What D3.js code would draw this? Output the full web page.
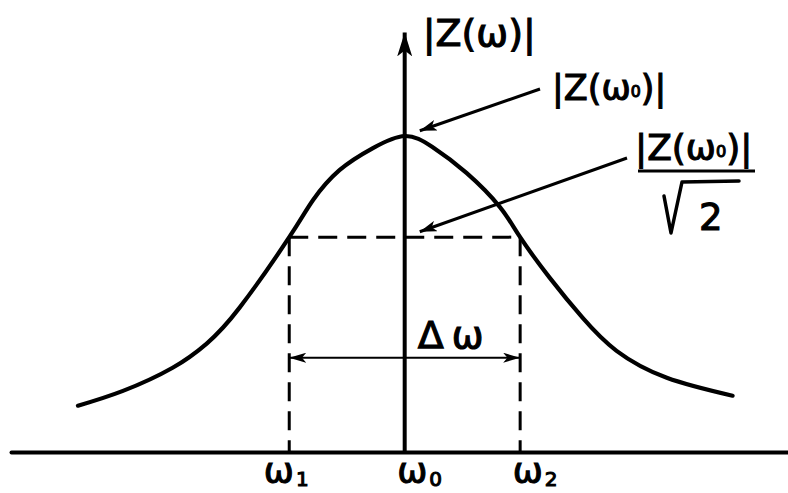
<!DOCTYPE html>
<html>
<head>
<meta charset="utf-8">
<script src="https://cdn.jsdelivr.net/npm/d3@7"></script>
<style>
  html, body { margin: 0; padding: 0; background: #fff; }
  svg { display: block; }
  text { font-family: "DejaVu Sans", sans-serif; fill: #000; stroke: #000; stroke-width: 1.1px; }
</style>
</head>
<body>
<svg id="chart" width="788" height="493"></svg>
<script>
// Resonance curve |Z(ω)|; frequency in units of ω0, magnitude relative to |Z(ω0)|
const omega     = [0.434, 0.512, 0.598, 0.657, 0.714, 0.800, 0.841, 0.887, 0.945, 1.000,
                   1.048, 1.107, 1.165, 1.200, 1.251, 1.308, 1.367, 1.454, 1.568];
const magnitude = [0.219, 0.262, 0.329, 0.399, 0.503, 0.707, 0.814, 0.901, 0.965, 1.000,
                   0.968, 0.893, 0.794, 0.707, 0.590, 0.474, 0.378, 0.300, 0.248];

// Marked frequencies on the ω axis
const tickValues = [0.8, 1.0, 1.2];
const tickBase   = ["ω", "ω", "ω"];
const tickSubs   = ["1", "0", "2"];

const omega0 = 1.0;
const omega1 = 0.8;
const omega2 = 1.2;
const peakValue = 1.0;
const halfPowerValue = peakValue / Math.SQRT2;
const bandArrowLevel = 0.358;   // height of the Δω dimension line
const axisTopValue = 1.30;      // top of the |Z| axis arrow
const baseValue = 0.085;        // level of the ω axis

const svg = d3.select("#chart");

const x = d3.scaleLinear().domain([0.318, 1.664]).range([11, 788]);
const y = d3.scaleLinear().domain([baseValue, 1]).range([452, 136]);

// arrow markers
const defs = svg.append("defs");
function arrowMarker(id, len, half) {
  defs.append("marker")
    .attr("id", id)
    .attr("markerUnits", "userSpaceOnUse")
    .attr("viewBox", `0 ${-half} ${len} ${2 * half}`)
    .attr("refX", len).attr("refY", 0)
    .attr("markerWidth", len).attr("markerHeight", 2 * half)
    .attr("orient", "auto-start-reverse")
    .append("path")
    .attr("d", `M0,${-half}L${len},0L0,${half}L${len * 0.25},0Z`)
    .attr("fill", "#000");
}
arrowMarker("axisHead", 24, 7.5);
arrowMarker("pointerHead", 17, 5.5);
arrowMarker("dimHead", 17, 5);

// ω axis (horizontal) with the three marked frequencies
const xAxis = d3.axisBottom(x)
  .tickValues(tickValues)
  .tickSize(0)
  .tickSizeOuter(0)
  .tickFormat("");
const gx = svg.append("g")
  .attr("transform", `translate(0,${y(baseValue)})`)
  .call(xAxis);
gx.select(".domain").attr("stroke", "#000").attr("stroke-width", 4).attr("stroke-linecap", "round");
const tickNudge = [-26, -8, -8];
gx.selectAll(".tick text").each(function (d, i) {
  const t = d3.select(this)
    .attr("y", 31).attr("dy", 0)
    .attr("x", tickNudge[i])
    .attr("text-anchor", "start")
    .attr("font-size", 36)
    .attr("fill", "#000");
  t.text(null);
  t.append("tspan").text(tickBase[i]);
  t.append("tspan").attr("font-size", 20).attr("dx", 2).attr("dy", 3).text(tickSubs[i]);
});

// |Z| axis (vertical) with arrow head
const vLine = d3.line().x(d => x(d[0])).y(d => y(d[1]));
svg.append("path")
  .attr("d", vLine([[omega0, baseValue], [omega0, axisTopValue]]))
  .attr("stroke", "#000").attr("stroke-width", 4).attr("fill", "none")
  .attr("marker-end", "url(#axisHead)");

// half-power dashed rectangle
const dash = "19,10";
svg.append("path")
  .attr("d", vLine([[omega1, halfPowerValue], [omega2, halfPowerValue]]))
  .attr("stroke", "#000").attr("stroke-width", 3).attr("stroke-dasharray", dash).attr("fill", "none");
[omega1, omega2].forEach(w => {
  svg.append("path")
    .attr("d", vLine([[w, halfPowerValue], [w, baseValue]]))
    .attr("stroke", "#000").attr("stroke-width", 3).attr("stroke-dasharray", dash).attr("fill", "none");
});

// bandwidth dimension line Δω
svg.append("path")
  .attr("d", vLine([[omega1, bandArrowLevel], [omega2, bandArrowLevel]]))
  .attr("stroke", "#000").attr("stroke-width", 2).attr("fill", "none")
  .attr("marker-start", "url(#dimHead)")
  .attr("marker-end", "url(#dimHead)");
const dText = svg.append("text")
  .attr("x", x(omega0) + 13)
  .attr("y", y(bandArrowLevel) - 10)
  .attr("font-size", 38);
dText.append("tspan").text("Δ");
dText.append("tspan").attr("dx", 8).text("ω");

// resonance curve
const curve = d3.line()
  .x((d, i) => x(omega[i]))
  .y(d => y(d))
  .curve(d3.curveNatural);
svg.append("path")
  .attr("d", curve(magnitude))
  .attr("stroke", "#000").attr("stroke-width", 4.2)
  .attr("fill", "none").attr("stroke-linecap", "round");

// axis title |Z(ω)|
svg.append("text")
  .attr("x", x(omega0) + 18)
  .attr("y", 46)
  .attr("font-size", 38)
  .text("|Z(ω)|");

// |Z(ω0)| label text
function zOmega0(sel, size) {
  sel.append("tspan").text("|Z(ω");
  sel.append("tspan").attr("font-size", size * 0.45).attr("dy", -3).text("0");
  sel.append("tspan").attr("dy", 3).text(")|");
}
const peakLabel = { x: 552, y: 100 };
zOmega0(svg.append("text").attr("x", peakLabel.x).attr("y", peakLabel.y).attr("font-size", 35), 35);

// pointers from the labels to the values on the |Z| axis
function pointer(fromX, fromY, toW, toV) {
  const tx = x(toW), ty = y(toV);
  const dx = fromX - tx, dy = fromY - ty, len = Math.hypot(dx, dy);
  const gap = 16;
  svg.append("line")
    .attr("x1", fromX).attr("y1", fromY)
    .attr("x2", tx + dx / len * gap).attr("y2", ty + dy / len * gap)
    .attr("stroke", "#000").attr("stroke-width", 3)
    .attr("marker-end", "url(#pointerHead)");
}
pointer(peakLabel.x - 12, peakLabel.y - 11, omega0, peakValue);

// half-power label: |Z(ω0)| / √2
const frac = { x: 635, y: 160 };
const fg = svg.append("g").attr("transform", `translate(${frac.x},${frac.y})`);
zOmega0(fg.append("text").attr("x", 0).attr("y", 0).attr("font-size", 36), 36);
fg.append("line").attr("x1", 3).attr("x2", 120).attr("y1", 11).attr("y2", 11)
  .attr("stroke", "#000").attr("stroke-width", 3);
fg.append("path")
  .attr("d", "M29,36L36,73L47,22L104,21")
  .attr("stroke", "#000").attr("stroke-width", 3.5).attr("fill", "none")
  .attr("stroke-linejoin", "round").attr("stroke-linecap", "round");
fg.append("text").attr("x", 64).attr("y", 70).attr("font-size", 37).text("2");
pointer(frac.x - 8, frac.y - 2, omega0, halfPowerValue);
</script>
</body>
</html>
